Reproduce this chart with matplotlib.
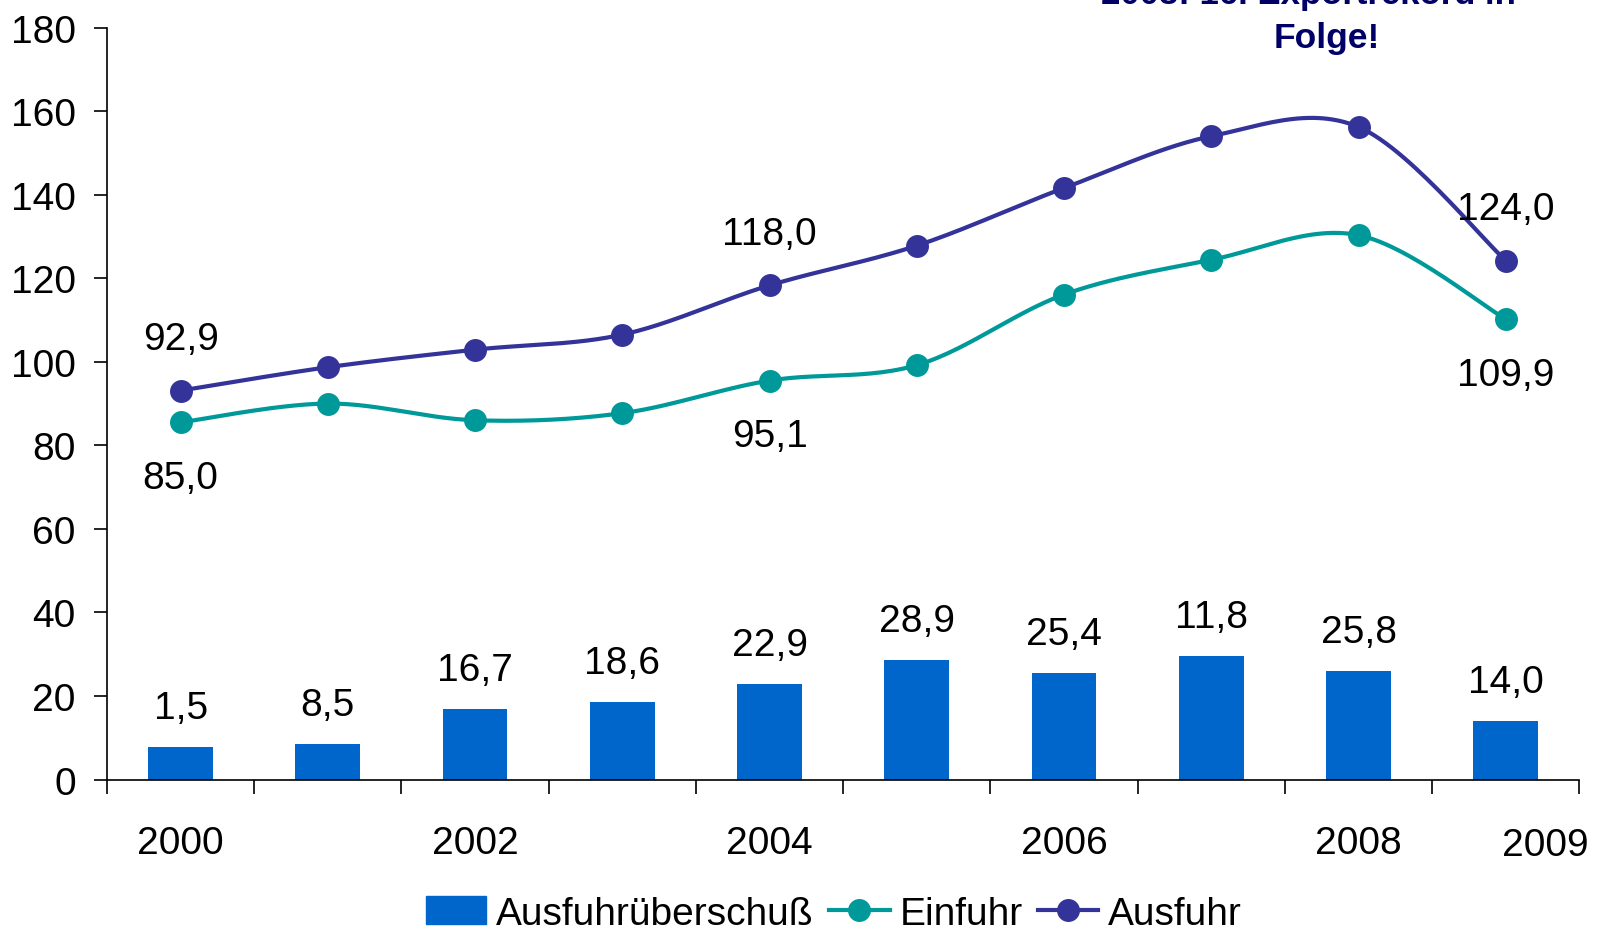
import numpy as np
import matplotlib
matplotlib.use('Agg')
import matplotlib.pyplot as plt
from matplotlib.lines import Line2D
from matplotlib.patches import Patch

plt.rcParams['font.family'] = ['Liberation Sans', 'DejaVu Sans']

years = [2000, 2001, 2002, 2003, 2004, 2005, 2006, 2007, 2008, 2009]
year_labels = ['2000', '', '2002', '', '2004', '', '2006', '', '2008', '']
ueberschuss = [7.8, 8.5, 16.8, 18.6, 22.8, 28.7, 25.5, 29.6, 26.0, 14.0]
ueberschuss_labels = ['1,5', '8,5', '16,7', '18,6', '22,9', '28,9', '25,4', '11,8', '25,8', '14,0']
einfuhr = [85.5, 90.0, 86.0, 87.7, 95.5, 99.2, 116.1, 124.4, 130.3, 110.2]
ausfuhr = [93.1, 98.7, 102.9, 106.5, 118.3, 127.8, 141.6, 154.0, 156.2, 124.2]
# beschriftete Punkte: (index, text)
einfuhr_labels = [(0, '85,0'), (4, '95,1'), (9, '109,9')]
ausfuhr_labels = [(0, '92,9'), (4, '118,0'), (9, '124,0')]

c_bar = '#0066CC'
c_ein = '#009999'
c_aus = '#333399'
c_title = '#000066'
fs = 28


def smooth(x, y, n=30):
    # Bezier-Glättung wie in Excel (Catmull-Rom)
    x = np.asarray(x, float)
    y = np.asarray(y, float)
    px = np.concatenate([[x[0]], x, [x[-1]]])
    py = np.concatenate([[y[0]], y, [y[-1]]])
    xs, ys = [], []
    t = np.linspace(0, 1, n)
    for i in range(1, len(px) - 2):
        p0 = np.array([px[i], py[i]])
        p3 = np.array([px[i + 1], py[i + 1]])
        p1 = p0 + (p3 - np.array([px[i - 1], py[i - 1]])) / 6.0
        p2 = p3 - (np.array([px[i + 2], py[i + 2]]) - p0) / 6.0
        b = ((1 - t) ** 3)[:, None] * p0 + (3 * (1 - t) ** 2 * t)[:, None] * p1 \
            + (3 * (1 - t) * t ** 2)[:, None] * p2 + (t ** 3)[:, None] * p3
        xs.extend(b[:, 0])
        ys.extend(b[:, 1])
    return xs, ys


fig = plt.figure(figsize=(16.04, 9.37), dpi=100)
ax = fig.add_axes([0.0667, 0.167, 0.918, 0.8025])

x = np.arange(len(years))
ax.bar(x, ueberschuss, width=0.44, color=c_bar, zorder=2)
for i, lab in enumerate(ueberschuss_labels):
    ax.annotate(lab, (x[i], ueberschuss[i]), xytext=(0, 28), textcoords='offset points',
                ha='center', va='center', fontsize=fs)

for vals, col in [(einfuhr, c_ein), (ausfuhr, c_aus)]:
    sx, sy = smooth(x, vals)
    ax.plot(sx, sy, color=col, lw=3, zorder=3, solid_capstyle='round')
    ax.plot(x, vals, 'o', color=col, ms=15.5, zorder=4)

for i, lab in ausfuhr_labels:
    ax.annotate(lab, (x[i], ausfuhr[i]), xytext=(0, 37), textcoords='offset points',
                ha='center', va='center', fontsize=fs)
for i, lab in einfuhr_labels:
    ax.annotate(lab, (x[i], einfuhr[i]), xytext=(0, -40), textcoords='offset points',
                ha='center', va='center', fontsize=fs)

ax.set_xlim(-0.5, len(years) - 0.5)
ax.set_ylim(0, 180)
ax.set_yticks(np.arange(0, 181, 20))
ax.tick_params(axis='y', direction='out', length=9.5, width=1.2, pad=13, labelsize=fs)

ax.set_xticks(np.arange(-0.5, len(years)), labels=[''] * (len(years) + 1))
ax.tick_params(axis='x', which='major', direction='out', length=10, width=1.2)
ax.set_xticks(x, labels=year_labels, minor=True)
ax.tick_params(axis='x', which='minor', length=0, pad=33, labelsize=fs)
ax.text(9.27, -15.6, '2009', ha='center', va='center', fontsize=fs)

for s in ['top', 'right']:
    ax.spines[s].set_visible(False)
for s in ['left', 'bottom']:
    ax.spines[s].set_linewidth(1.2)

fig.text(0.816, 1.006, '2008: 16. Exportrekord in', ha='center', va='center',
         fontsize=25, fontweight='bold', color=c_title)
fig.text(0.827, 0.959, 'Folge!', ha='center', va='center',
         fontsize=25.5, fontweight='bold', color=c_title)

handles = [Patch(color=c_bar, label='Ausfuhrüberschuß'),
           Line2D([], [], color=c_ein, lw=3, marker='o', ms=15.5, label='Einfuhr'),
           Line2D([], [], color=c_aus, lw=3, marker='o', ms=15.5, label='Ausfuhr')]
fig.legend(handles=handles, loc='center', bbox_to_anchor=(0.52, 0.024), ncol=3,
           frameon=False, fontsize=fs, handlelength=1.55, handletextpad=0.25,
           columnspacing=0.4, borderpad=0, borderaxespad=0)

fig.savefig('out.png', dpi=100)
